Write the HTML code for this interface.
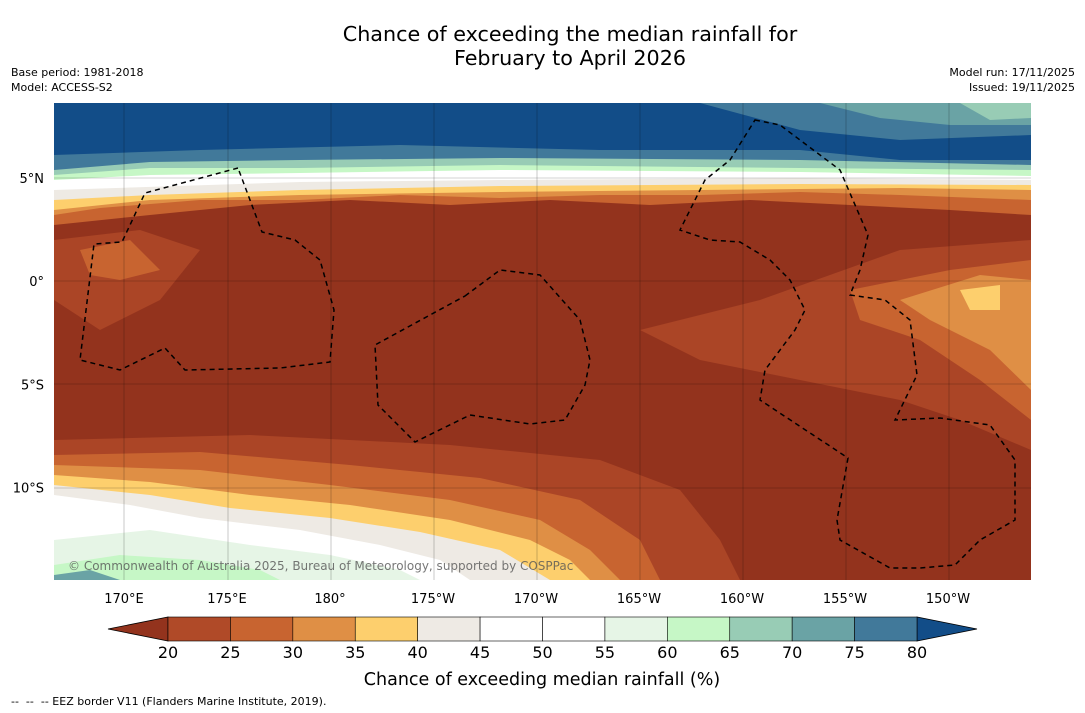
<!DOCTYPE html>
<html><head><meta charset="utf-8"><style>
body{margin:0;background:#fff;font-family:"DejaVu Sans","Liberation Sans",sans-serif;}
#w{position:relative;width:1085px;height:713px;overflow:hidden;background:#fff}
.t{position:absolute;white-space:nowrap;color:#000}
</style></head><body>
<div id="w">
<div class="t" style="left:0;width:1140px;text-align:center;top:22px;font-size:20.7px;line-height:24px">Chance of exceeding the median rainfall for<br>February to April 2026</div>
<div class="t" style="left:11px;top:65px;font-size:11px;line-height:15px">Base period: 1981-2018<br>Model: ACCESS-S2</div>
<div class="t" style="right:10px;top:65px;font-size:11px;line-height:15px;text-align:right">Model run: 17/11/2025<br>Issued: 19/11/2025</div>
<div class="t" style="left:11px;top:695px;font-size:11px">-- &nbsp;-- &nbsp;-- EEZ border V11 (Flanders Marine Institute, 2019).</div>
<svg id="s" width="1085" height="713" style="position:absolute;left:0;top:0;font-family:'DejaVu Sans',sans-serif">
<defs><clipPath id="cp"><rect x="54" y="103" width="977" height="477"/></clipPath></defs>
<g clip-path="url(#cp)">
<rect x="54" y="103" width="977" height="477" fill="#93331d"/>
<path d="M54 103H1031V215L950 210 850 205 750 200 650 205 550 200 450 205 350 200 250 205 150 215 54 225Z" fill="#c86430"/>
<path d="M54 103H1031V200L900 195 800 192 700 195 600 195 500 198 400 195 300 200 200 200 100 208 54 215Z" fill="#df8f45"/>
<path d="M54 103H1031V190L900 188 700 190 500 192 300 195 150 200 54 210Z" fill="#fdcf6d"/>
<path d="M54 103H1031V185L800 184 500 186 300 190 150 195 54 200Z" fill="#eeeae4"/>
<path d="M54 103H1031V180L800 178 500 180 300 182 54 190Z" fill="#ffffff"/>
<path d="M54 103H1031V176L800 172 500 170 300 173 150 175 54 180Z" fill="#c6f7c6"/>
<path d="M54 103H1031V170L800 168 500 165 300 168 150 168 54 175Z" fill="#98ccb5"/>
<path d="M54 103H1031V165L800 160 500 158 300 160 150 162 54 170Z" fill="#41799a"/>
<path d="M54 103H700L800 130 900 140 1031 135V160L900 160 800 150 600 150 400 145 200 150 54 155Z" fill="#124d88"/>
<path d="M820 103H1031V125L950 125 880 118Z" fill="#6aa3a5"/>
<path d="M960 103H1031V118L990 120Z" fill="#98ccb5"/>
<path d="M54 240L140 230 200 250 160 300 100 330 54 300Z" fill="#ab4526"/>
<path d="M80 250L130 240 160 270 120 280 90 275Z" fill="#c86430"/>
<path d="M640 330L760 300 900 250 1031 240V450L960 420 900 400 800 380 700 360Z" fill="#ab4526"/>
<path d="M850 290L950 270 1031 260V420L980 380 920 340 860 320Z" fill="#c86430"/>
<path d="M900 300L980 275 1031 280V390L990 350 930 320Z" fill="#df8f45"/>
<path d="M960 290L1000 285 1000 310 970 310Z" fill="#fdcf6d"/>
<path d="M54 440L250 435 450 445 600 460 680 490 720 540 740 580H54Z" fill="#ab4526"/>
<path d="M54 455L200 452 350 465 480 478 580 500 640 540 660 580H54Z" fill="#c86430"/>
<path d="M54 465L200 470 330 485 450 500 540 520 590 550 620 580H54Z" fill="#df8f45"/>
<path d="M54 475L150 482 250 495 350 505 450 520 530 540 570 560 590 580H54Z" fill="#fdcf6d"/>
<path d="M54 485L150 495 230 508 330 518 420 532 500 550 550 580H54Z" fill="#eeeae4"/>
<path d="M54 495L130 505 200 518 300 530 380 545 440 560 470 580H54Z" fill="#ffffff"/>
<path d="M54 540L150 530 250 545 330 555 400 570 420 580H54Z" fill="#e6f5e6"/>
<path d="M54 565L120 555 200 560 260 570 280 580H54Z" fill="#c6f7c6"/>
<path d="M54 575L90 570 120 580H54Z" fill="#6aa3a5"/>
<g stroke="#000" stroke-opacity=".35" stroke-width="0.6">
<line x1="124" y1="103" x2="124" y2="580"/><line x1="228" y1="103" x2="228" y2="580"/><line x1="331" y1="103" x2="331" y2="580"/><line x1="434" y1="103" x2="434" y2="580"/><line x1="537" y1="103" x2="537" y2="580"/><line x1="640" y1="103" x2="640" y2="580"/><line x1="743" y1="103" x2="743" y2="580"/><line x1="846" y1="103" x2="846" y2="580"/><line x1="949" y1="103" x2="949" y2="580"/>
<line x1="54" y1="178" x2="1031" y2="178"/><line x1="54" y1="281" x2="1031" y2="281"/><line x1="54" y1="384" x2="1031" y2="384"/><line x1="54" y1="488" x2="1031" y2="488"/>
</g>
<g fill="none" stroke="#000" stroke-width="1.5" stroke-dasharray="5,4">
<path d="M238 168L145 193 122 242 94 244 80 360 120 370 165 348 185 370 280 368 330 362 334 310 320 260 295 240 262 232Z"/>
<path d="M465 296L500 270 540 275 580 320 590 360 585 385 565 420 530 424 470 415 415 442 378 405 375 345 430 315Z"/>
<path d="M755 120L780 125 840 170 868 235 860 270 850 295 885 300 910 320 917 375 895 420 940 418 990 425 1015 460 1015 520 980 540 955 565 920 568 890 568 840 540 837 520 848 458 760 400 765 370 795 330 805 310 790 280 770 260 740 242 710 240 680 230 705 180 730 160Z"/>
</g>
<text x="68" y="570" font-size="12" fill="#555" fill-opacity=".8">© Commonwealth of Australia 2025, Bureau of Meteorology, supported by COSPPac</text>
</g>
<g id="ax" font-size="13"></g>
<g id="cb"></g>
<text x="542" y="685" font-size="17.5" text-anchor="middle">Chance of exceeding median rainfall (%)</text>
</svg>
</div>
<script>
const lonTicks=[170,175,180,-175,-170,-165,-160,-155,-150];
const lonLabels=["170°E","175°E","180°","175°W","170°W","165°W","160°W","155°W","150°W"];
const latTicks=[5,0,-5,-10];
const latLabels=["5°N","0°","5°S","10°S"];
const levels=[20,25,30,35,40,45,50,55,60,65,70,75,80];
const levelColors=["#b04a28","#c86430","#df8f45","#fdcf6d","#eeeae4","#ffffff","#ffffff","#e6f5e6","#c6f7c6","#98ccb5","#6aa3a5","#41799a"];
const lowColor="#93331d", highColor="#124d88";
const NS="http://www.w3.org/2000/svg";
function lx(l){let v=l<0?360+l:l;return 124+(v-170)*20.6;}
function ly(l){return 281-l*20.65;}
function cx(v){return 168+(v-20)/60*749;}
function mk(t,a,p){const e=document.createElementNS(NS,t);for(const k in a)e.setAttribute(k,a[k]);p.appendChild(e);return e;}
const ax=document.getElementById('ax'),cb=document.getElementById('cb');
lonTicks.forEach((l,i)=>{const t=mk('text',{x:lx(l),y:603,'text-anchor':'middle'},ax);t.textContent=lonLabels[i];

});
latTicks.forEach((l,i)=>{const t=mk('text',{x:44,y:ly(l)+5,'text-anchor':'end'},ax);t.textContent=latLabels[i];

});
const y0=617,h=24;
let p=mk('polygon',{points:`${cx(20)},${y0} ${cx(20)},${y0+h} 108,${y0+h/2}`,fill:lowColor,stroke:'#000','stroke-width':0.8},cb);


p=mk('polygon',{points:`${cx(80)},${y0} ${cx(80)},${y0+h} 977,${y0+h/2}`,fill:highColor,stroke:'#000','stroke-width':0.8},cb);


levelColors.forEach((c,i)=>{const r=mk('rect',{x:cx(levels[i]),y:y0,width:cx(levels[i+1])-cx(levels[i]),height:h,fill:c,stroke:'#000','stroke-width':0.6},cb);

});
levels.forEach(v=>{const t=mk('text',{x:cx(v),y:658,'text-anchor':'middle','font-size':16},cb);t.textContent=v;

});
</script>
</body></html>
